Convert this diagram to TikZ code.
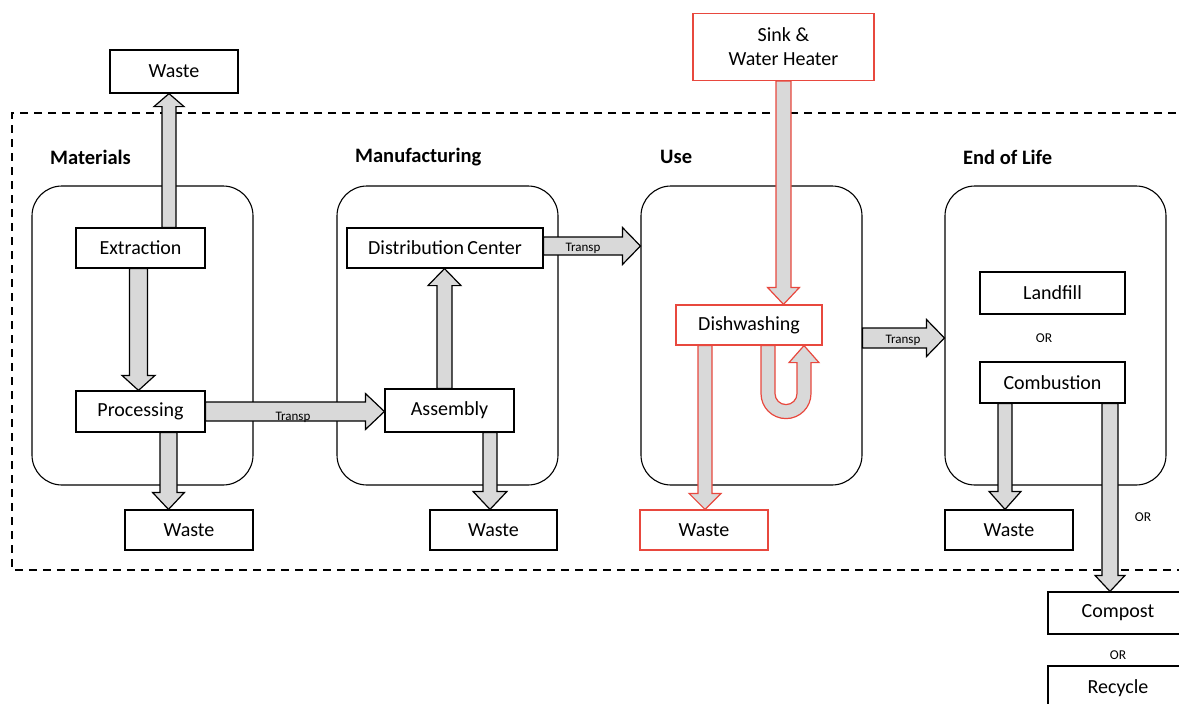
\documentclass[tikz,border=0pt]{standalone}
\usepackage{fontspec}
\setmainfont{Carlito}
\usetikzlibrary{calc}
\definecolor{redl}{RGB}{232,72,62}
\definecolor{arrgray}{RGB}{217,217,217}
\pgfdeclarelayer{bg}
\pgfdeclarelayer{mid}
\pgfsetlayers{bg,mid,main}
% #1 extra style, #2 start, #3 end, #4 half shaft, #5 half head, #6 head length
\newcommand\blockarr[6][]{%
  \coordinate (ba-hb) at ($(#3)!#6pt!(#2)$);
  \draw[arrowstyle,#1] ($(#2)!#4pt!90:(#3)$) -- ($(ba-hb)!#4pt!90:(#3)$) -- ($(ba-hb)!#5pt!90:(#3)$) -- (#3) -- ($(ba-hb)!#5pt!-90:(#3)$) -- ($(ba-hb)!#4pt!-90:(#3)$) -- ($(#2)!#4pt!-90:(#3)$) -- cycle;
}
\begin{document}
\begin{tikzpicture}[x=1pt,y=-1pt,
  box/.style={draw, line width=1.2pt, fill=white, inner sep=0pt, font=\fontsize{20}{24}\selectfont, align=center},
  redbox/.style={box, draw=redl},
  cont/.style={draw, line width=1.1pt, rounded corners=30pt, minimum width=221pt, minimum height=299pt, inner sep=0pt},
  head/.style={font=\bfseries\fontsize{20.5}{23}\selectfont, anchor=west, inner sep=0pt},
  arrowstyle/.style={draw=black, fill=arrgray, line width=1.2pt, line join=miter},
  redarrow/.style={draw=redl, fill=arrgray, line width=1.2pt, line join=miter},
  small/.style={font=\fontsize{13.5}{16}\selectfont, inner sep=0pt},
  frame/.style={line width=1.2pt, dash pattern=on 8pt off 6pt},
]
\useasboundingbox (0,0) rectangle (1179,704);

\begin{pgfonlayer}{bg}
\draw[frame] (1190,113) -- (12,113) -- (12,570) -- (1190,570);
\node[cont] (matC) at (142.5,335.5) {};
\node[cont] (manC) at (447.5,335.5) {};
\node[cont] (useC) at (751.5,335.5) {};
\node[cont] (eolC) at (1055.5,335.5) {};
\end{pgfonlayer}

% headers
\node[head] (hmat) at (50,157) {Materials};
\node[head] (hman) at (355,157) {Manufacturing};
\node[head] (huse) at (660,157) {Use};
\node[head] (heol) at (963,157) {End of Life};

% boxes
\node[box, minimum width=128pt, minimum height=43pt] (wtop) at (174,71.5) {Waste};
\node[box, minimum width=129pt, minimum height=40pt] (extr) at (140.5,248) {Extraction};
\node[box, minimum width=129pt, minimum height=41pt] (proc) at (140.5,411.5) {Processing};
\node[box, minimum width=128pt, minimum height=40pt] (wmat) at (189,530) {Waste};
\node[box, minimum width=196pt, minimum height=40pt] (dist) at (445,248) {Distribution\,Center};
\node[box, minimum width=129pt, minimum height=43pt] (asm) at (449.5,410.5) {Assembly};
\node[box, minimum width=127pt, minimum height=40pt] (wman) at (493.5,530) {Waste};
\node[redbox, minimum width=181pt, minimum height=67pt] (sink) at (783.5,47) {Sink \&\\Water Heater};
\node[redbox, minimum width=146pt, minimum height=40pt] (dish) at (749,325) {Dishwashing};
\node[redbox, minimum width=128pt, minimum height=40pt] (wuse) at (704,530) {Waste};
\node[box, minimum width=145pt, minimum height=42pt] (land) at (1052.5,293) {Landfill};
\node[box, minimum width=145pt, minimum height=41pt] (comb) at (1052.5,382.5) {Combustion};
\node[box, minimum width=128pt, minimum height=40pt] (weol) at (1009,530) {Waste};
\node[box, minimum width=140pt, minimum height=42pt] (comp) at (1118,613) {Compost};
\node[box, minimum width=140pt, minimum height=44pt] (recy) at (1118,688) {Recycle};

% OR labels
\node[small] (or1) at (1044,338) {OR};
\node[small] (or2) at (1143,517) {OR};
\node[small] (or3) at (1118,655) {OR};

% arrows
\begin{pgfonlayer}{mid}
\coordinate (a1s) at ([xshift=28.5pt]extr.north);
\coordinate (a1e) at (a1s |- wtop.south);
\blockarr{a1s}{a1e}{7}{15}{13}
\coordinate (a2s) at ([xshift=-2pt]extr.south);
\coordinate (a2e) at (a2s |- proc.north);
\blockarr{a2s}{a2e}{9}{16.5}{15}
\coordinate (a3s) at ([xshift=28pt]proc.south);
\coordinate (a3e) at (a3s |- wmat.north);
\blockarr{a3s}{a3e}{8.5}{16}{17}
\coordinate (a4s) at (proc.east);
\coordinate (a4e) at (a4s -| asm.west);
\blockarr{a4s}{a4e}{9.5}{18}{19}
\coordinate (a5s) at ([xshift=-5pt]asm.north);
\coordinate (a5e) at (a5s |- dist.south);
\blockarr{a5s}{a5e}{7.5}{16.5}{17}
\coordinate (a6s) at ([xshift=40.5pt]asm.south);
\coordinate (a6e) at (a6s |- wman.north);
\blockarr{a6s}{a6e}{7}{17}{18}
\coordinate (a7s) at ([yshift=2pt]dist.east);
\coordinate (a7e) at (a7s -| useC.west);
\blockarr{a7s}{a7e}{9}{18.5}{18}
\coordinate (a8s) at (sink.south);
\coordinate (a8e) at (a8s |- dish.north);
\blockarr[redarrow]{a8s}{a8e}{7.5}{16}{17}
\coordinate (a9s) at ([xshift=-44pt]dish.south);
\coordinate (a9e) at (a9s |- wuse.north);
\blockarr[redarrow]{a9s}{a9e}{7}{16}{16}
\coordinate (a10s) at ([yshift=-2.5pt]useC.east);
\coordinate (a10e) at (a10s -| eolC.west);
\blockarr{a10s}{a10e}{10}{18.5}{18}
\coordinate (a11s) at ([xshift=-47.5pt]comb.south);
\coordinate (a11e) at (a11s |- weol.north);
\blockarr{a11s}{a11e}{7}{16}{18}
\coordinate (a12s) at ([xshift=57.5pt]comb.south);
\coordinate (a12e) at (a12s |- comp.north);
\blockarr{a12s}{a12e}{8}{15}{16}
% U-turn arrow
\draw[redarrow] ([xshift=12pt]dish.south) -- ++(0,48)
  arc[start angle=180, end angle=360, radius=25pt] -- ++(0,-31) -- ++(8,0)
  -- ++(-15,-17) -- ++(-15,17) -- ++(8,0) -- ++(0,31)
  arc[start angle=0, end angle=-180, radius=11pt] -- ++(0,-48) -- cycle;
\end{pgfonlayer}

% Transp labels
\node[small, font=\fontsize{13}{15}\selectfont] (t1) at (293,417) {Transp};
\node[small, font=\fontsize{13}{15}\selectfont] (t2) at (583,248) {Transp};
\node[small, font=\fontsize{13}{15}\selectfont] (t3) at (903,340) {Transp};
\end{tikzpicture}
\end{document}
